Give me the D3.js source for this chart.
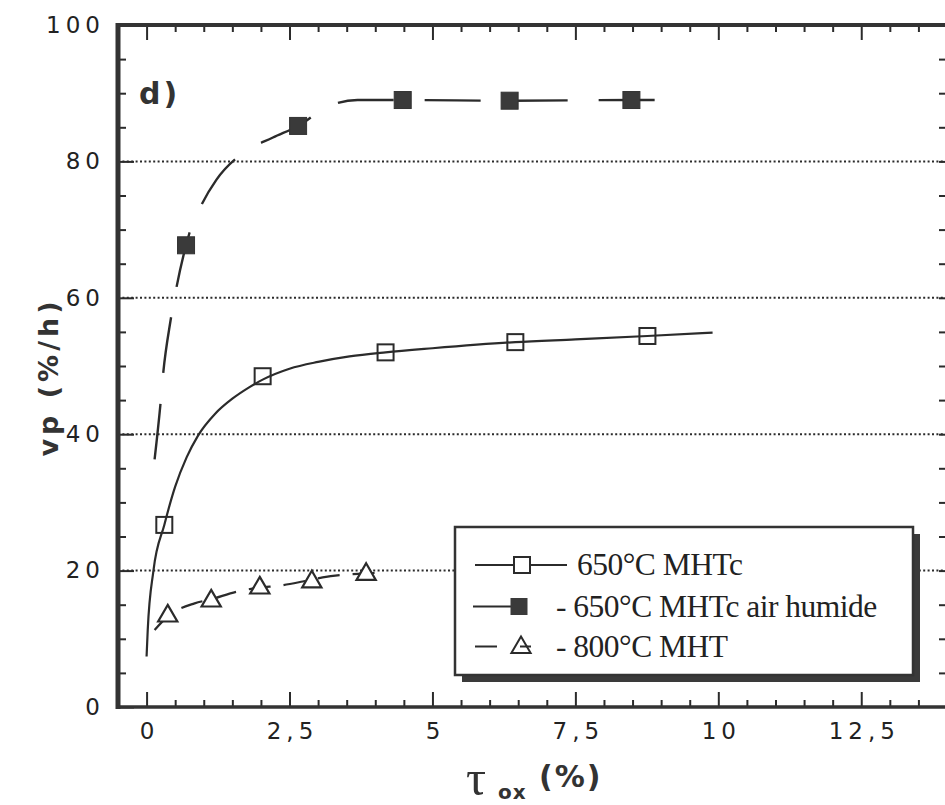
<!DOCTYPE html>
<html>
<head>
<meta charset="utf-8">
<script src="https://cdn.jsdelivr.net/npm/d3@7/dist/d3.min.js"></script>
<style>
  html, body { margin: 0; padding: 0; background: #fff; }
  svg { display: block; }
</style>
</head>
<body>
<svg id="chart" width="945" height="805"></svg>
<script>
// ---------------- DATA ----------------
const xMajorTicks = [0, 2.5, 5, 7.5, 10, 12.5];
const xTickLabels = ["0", "2,5", "5", "7,5", "10", "12,5"];
const yMajorTicks = [0, 20, 40, 60, 80, 100];
const yTickLabels = ["0", "20", "40", "60", "80", "100"];
const gridValues = [20, 40, 60, 80];

// 650°C MHTc (open squares)
const mhtcX = [0.31, 2.03, 4.18, 6.45, 8.76];
const mhtcY = [26.7, 48.5, 52.0, 53.5, 54.4];
// fitted curve
const mhtcCurveX = [0, 0.02, 0.12, 0.31, 0.5, 0.7, 0.9, 1.2, 1.5, 1.8, 2.03, 2.5, 3.0, 3.55, 4.18, 5.0, 6.45, 7.5, 8.76, 9.9];
const mhtcCurveY = [7.4, 11.3, 20.0, 26.7, 32.3, 36.6, 39.8, 43.0, 45.2, 46.9, 48.0, 49.6, 50.6, 51.4, 52.0, 52.6, 53.5, 53.9, 54.4, 54.9];

// 650°C MHTc air humide (filled squares)
const humideX = [0.69, 2.65, 4.48, 6.35, 8.48];
const humideY = [67.7, 85.2, 89.0, 88.9, 89.0];
const humideCurveX = [0.14, 0.24, 0.29, 0.42, 0.52, 0.69, 0.75, 0.97, 1.22, 1.68, 2.21, 2.65, 3.16, 3.69, 4.48, 6.35, 8.48, 9.13];
const humideCurveY = [36.3, 44.2, 48.9, 56.7, 61.4, 67.7, 69.5, 73.8, 77.3, 81.2, 83.5, 85.2, 88.0, 89.0, 89.0, 88.9, 89.0, 89.0];

// 800°C MHT (open triangles)
const mhtX = [0.37, 1.13, 1.98, 2.89, 3.84];
const mhtY = [13.5, 15.7, 17.6, 18.5, 19.6];
const mhtCurveX = [0.14, 0.37, 0.84, 1.13, 1.57, 1.98, 2.33, 2.73, 3.08, 3.46, 3.84, 4.19];
const mhtCurveY = [11.3, 13.3, 15.2, 15.8, 16.9, 17.5, 17.8, 18.4, 19.0, 19.4, 19.6, 19.7];

const legendLabels = ["650°C MHTc", "- 650°C MHTc air humide", "- 800°C MHT"];

// ---------------- DRAW ----------------
const ink = "#2b2b2b";
const svg = d3.select("#chart");
const x = d3.scaleLinear().domain([-0.5, 14]).range([118, 947]);
const y = d3.scaleLinear().domain([0, 100]).range([707, 25]);

const tickFont = "'DejaVu Sans', Verdana, sans-serif";
const boldFont = "'DejaVu Sans', Verdana, sans-serif";

// gridlines (dotted)
svg.append("g").selectAll("line").data(gridValues).join("line")
  .attr("x1", x(-0.5)).attr("x2", 945)
  .attr("y1", d => y(d)).attr("y2", d => y(d))
  .attr("stroke", ink).attr("stroke-width", 2)
  .attr("stroke-dasharray", "2,2.4");

const minorX = d3.range(0, 28).map(i => i * 0.5).filter(v => !xMajorTicks.includes(v));
const minorY = d3.range(0, 21).map(i => i * 5).filter(v => !yMajorTicks.includes(v));

function styleAxis(g) {
  g.select(".domain").remove();
  g.selectAll(".tick line").attr("stroke", ink).attr("stroke-width", 2);
}

// bottom axis
svg.append("g").attr("transform", `translate(0,${y(0)})`)
  .call(d3.axisBottom(x).tickValues(xMajorTicks).tickSize(-15).tickPadding(16)
    .tickFormat((d, i) => xTickLabels[i]))
  .call(styleAxis)
  .call(g => g.selectAll("text").attr("font-family", tickFont).attr("font-size", 23)
    .attr("fill", "#222").attr("letter-spacing", 5).attr("dx", 2.5));
svg.append("g").attr("transform", `translate(0,${y(0)})`)
  .call(d3.axisBottom(x).tickValues(minorX).tickSize(-7).tickFormat(""))
  .call(styleAxis);

// top axis
svg.append("g").attr("transform", `translate(0,${y(100)})`)
  .call(d3.axisTop(x).tickValues(xMajorTicks).tickSize(-15).tickFormat(""))
  .call(styleAxis);
svg.append("g").attr("transform", `translate(0,${y(100)})`)
  .call(d3.axisTop(x).tickValues(minorX).tickSize(-7).tickFormat(""))
  .call(styleAxis);

// left axis
svg.append("g").attr("transform", `translate(${x(-0.5)},0)`)
  .call(d3.axisLeft(y).tickValues(yMajorTicks).tickSize(-16).tickPadding(18)
    .tickFormat((d, i) => yTickLabels[i]))
  .call(styleAxis)
  .call(g => g.selectAll("text").attr("font-family", tickFont).attr("font-size", 23)
    .attr("fill", "#222").attr("letter-spacing", 5).attr("dx", 5));
svg.append("g").attr("transform", `translate(${x(-0.5)},0)`)
  .call(d3.axisLeft(y).tickValues(minorY).tickSize(-8).tickFormat(""))
  .call(styleAxis);

// right axis (inward ticks, frame just off-canvas)
svg.append("g").attr("transform", `translate(${x(14)},0)`)
  .call(d3.axisRight(y).tickValues(minorY.concat(gridValues)).tickSize(-8).tickFormat(""))
  .call(styleAxis);

// frame
svg.append("line").attr("x1", x(-0.5)).attr("x2", x(-0.5)).attr("y1", y(100) - 2).attr("y2", y(0) + 2)
  .attr("stroke", "#333").attr("stroke-width", 5);
svg.append("line").attr("x1", x(-0.5) - 2).attr("x2", 945).attr("y1", y(100)).attr("y2", y(100))
  .attr("stroke", "#333").attr("stroke-width", 4);
svg.append("line").attr("x1", x(-0.5) - 2).attr("x2", 945).attr("y1", y(0)).attr("y2", y(0))
  .attr("stroke", "#333").attr("stroke-width", 3.5);
svg.append("line").attr("x1", x(14)).attr("x2", x(14)).attr("y1", y(100)).attr("y2", y(0))
  .attr("stroke", "#333").attr("stroke-width", 4);

// curves
const line = d3.line().x(d => x(d[0])).y(d => y(d[1])).curve(d3.curveMonotoneX);
const zip = (a, b) => a.map((v, i) => [v, b[i]]);

svg.append("path").datum(zip(mhtcCurveX, mhtcCurveY)).attr("d", line)
  .attr("fill", "none").attr("stroke", ink).attr("stroke-width", 2.2);
svg.append("path").datum(zip(humideCurveX, humideCurveY)).attr("d", line)
  .attr("fill", "none").attr("stroke", ink).attr("stroke-width", 2.4)
  .attr("stroke-dasharray", "56,31");
svg.append("path").datum(zip(mhtCurveX, mhtCurveY)).attr("d", line)
  .attr("fill", "none").attr("stroke", ink).attr("stroke-width", 2.2)
  .attr("stroke-dasharray", "22,13");

// markers
const sq = 16;
svg.append("g").selectAll("rect").data(zip(mhtcX, mhtcY)).join("rect")
  .attr("x", d => x(d[0]) - sq / 2).attr("y", d => y(d[1]) - sq / 2)
  .attr("width", sq).attr("height", sq)
  .attr("fill", "none").attr("stroke", ink).attr("stroke-width", 2);
svg.append("g").selectAll("rect").data(zip(humideX, humideY)).join("rect")
  .attr("x", d => x(d[0]) - 8.5).attr("y", d => y(d[1]) - 8.5)
  .attr("width", 17).attr("height", 17)
  .attr("fill", "#3a3a3a").attr("stroke", "#333").attr("stroke-width", 1);
const tri = d3.symbol().type(d3.symbolTriangle).size(160);
svg.append("g").selectAll("path").data(zip(mhtX, mhtY)).join("path")
  .attr("d", tri)
  .attr("transform", d => `translate(${x(d[0])},${y(d[1]) + 1})`)
  .attr("fill", "#fff").attr("stroke", ink).attr("stroke-width", 2.2);

// panel label
svg.append("text").attr("x", 139).attr("y", 104).text("d)")
  .attr("font-family", boldFont).attr("font-weight", "bold").attr("font-size", 30)
  .attr("letter-spacing", 3).attr("fill", "#333");

// legend
const lg = { x: 455, y: 527, w: 458, h: 148 };
svg.append("rect").attr("x", lg.x + 7).attr("y", lg.y + 7).attr("width", lg.w).attr("height", lg.h)
  .attr("fill", "#3a3a3a");
svg.append("rect").attr("x", lg.x).attr("y", lg.y).attr("width", lg.w).attr("height", lg.h)
  .attr("fill", "#fff").attr("stroke", "#333").attr("stroke-width", 2.5);
const rowY = [565, 606.5, 646.5];
const lgFont = "'Liberation Serif', 'Times New Roman', Times, serif";
// row 1
svg.append("line").attr("x1", 475).attr("x2", 567).attr("y1", rowY[0]).attr("y2", rowY[0])
  .attr("stroke", ink).attr("stroke-width", 2);
svg.append("rect").attr("x", 522 - 8).attr("y", rowY[0] - 8).attr("width", 16).attr("height", 16)
  .attr("fill", "#fff").attr("stroke", ink).attr("stroke-width", 2);
// row 2
svg.append("line").attr("x1", 473).attr("x2", 512).attr("y1", rowY[1]).attr("y2", rowY[1])
  .attr("stroke", ink).attr("stroke-width", 2);
svg.append("rect").attr("x", 519 - 8.5).attr("y", rowY[1] - 8.5).attr("width", 17).attr("height", 17)
  .attr("fill", "#3a3a3a");
// row 3
svg.append("line").attr("x1", 475).attr("x2", 497).attr("y1", rowY[2]).attr("y2", rowY[2])
  .attr("stroke", ink).attr("stroke-width", 2);
svg.append("line").attr("x1", 520).attr("x2", 531).attr("y1", rowY[2]).attr("y2", rowY[2])
  .attr("stroke", ink).attr("stroke-width", 2);
svg.append("path").attr("d", tri).attr("transform", `translate(521,${rowY[2] + 1})`)
  .attr("fill", "none").attr("stroke", ink).attr("stroke-width", 2);
const lgTextX = [577, 556, 556];
svg.append("g").selectAll("text").data(legendLabels).join("text")
  .attr("x", (d, i) => lgTextX[i]).attr("y", (d, i) => rowY[i] + 10)
  .text(d => d)
  .attr("font-family", lgFont).attr("font-size", 31.5).attr("letter-spacing", -0.5).attr("fill", "#222");

// axis titles
svg.append("text").attr("transform", "translate(58,377) rotate(-90)")
  .attr("text-anchor", "middle")
  .attr("font-family", boldFont).attr("font-weight", "bold").attr("font-size", 27)
  .attr("letter-spacing", 4).attr("fill", "#333")
  .text("vp  (%/h)");
const xt = svg.append("g");
xt.append("text").attr("x", 466).attr("y", 795).text("τ")
  .attr("font-family", lgFont).attr("font-size", 50).attr("fill", "#333");
xt.append("text").attr("x", 498).attr("y", 799).text("ox")
  .attr("font-family", boldFont).attr("font-weight", "bold").attr("font-size", 20)
  .attr("letter-spacing", 1).attr("fill", "#333");
xt.append("text").attr("x", 539).attr("y", 787).text("(%)")
  .attr("font-family", boldFont).attr("font-weight", "bold").attr("font-size", 30)
  .attr("letter-spacing", 2).attr("fill", "#333");
</script>
</body>
</html>
